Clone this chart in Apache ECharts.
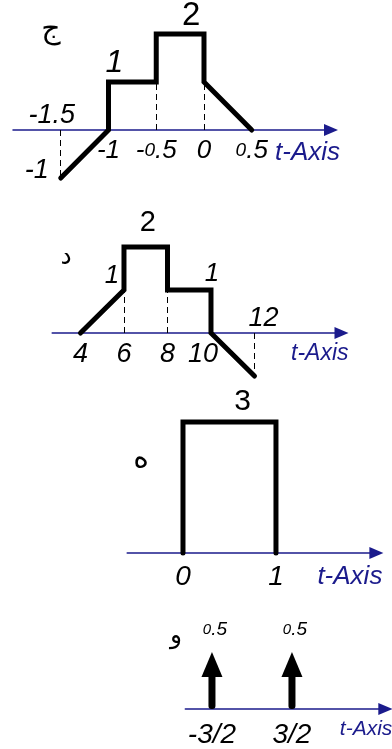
<!DOCTYPE html>
<html>
<head>
<meta charset="utf-8">
<script src="https://cdn.jsdelivr.net/npm/echarts@6/dist/echarts.min.js"></script>
<style>
html, body { margin: 0; padding: 0; background: #fff; }
#c { width: 392px; height: 749px; }
</style>
</head>
<body>
<div id="c"></div>
<script>
// ---- Signal (ج): piecewise signal with a ramp, two steps and a falling ramp
const sigA_t = [-1.5, -1, -1, -0.5, -0.5, 0, 0, 0.5];
const sigA_v = [-1, 0, 1, 1, 2, 2, 1, 0];
const guideA_t = [-1.5, -0.5, 0];
const guideA_v = [-1, 1, 1];
const tickA = [-1, -0.5, 0, 0.5];
const tickA_text = ['-1', '-0.5', '0', '0.5'];
const noteA_t = [-1.5, -1.5, -1, -0.25];
const noteA_v = [0, -1, 1, 2];
const noteA_text = ['-1.5', '-1', '1', '2'];

// ---- Signal (د)
const sigB_t = [4, 6, 6, 8, 8, 10, 10, 12];
const sigB_v = [0, 1, 2, 2, 1, 1, 0, -1];
const guideB_t = [6, 8, 12];
const guideB_v = [1, 1, -1];
const tickB = [4, 6, 8, 10];
const tickB_text = ['4', '6', '8', '10'];
const noteB_t = [7, 6, 10, 12];
const noteB_v = [2, 1, 1, 0];
const noteB_text = ['2', '1', '1', '12'];

// ---- Signal (ه): rectangular pulse
const sigC_t = [0, 0, 1, 1];
const sigC_v = [0, 3, 3, 0];
const tickC = [0, 1];
const tickC_text = ['0', '1'];
const noteC_t = [0.5];
const noteC_v = [3];
const noteC_text = ['3'];

// ---- Signal (و): two impulses
const impD_t = [-1.5, 1.5];
const impD_v = [0.5, 0.5];
const tickD = [-1.5, 1.5];
const tickD_text = ['-3/2', '3/2'];

const panelLetters = ['ج', 'د', 'ه', 'و'];

// ---- styling / layout
const NAVY = '#1b1b8c';
const INK = '#000';
const FONT = '"Liberation Sans", Arial, sans-serif';

const panels = [
  { sigT: sigA_t, sigV: sigA_v, guideT: guideA_t, guideV: guideA_v, ticks: tickA, tickText: tickA_text,
    noteT: noteA_t, noteV: noteA_v, noteText: noteA_text },
  { sigT: sigB_t, sigV: sigB_v, guideT: guideB_t, guideV: guideB_v, ticks: tickB, tickText: tickB_text,
    noteT: noteB_t, noteV: noteB_v, noteText: noteB_text },
  { sigT: sigC_t, sigV: sigC_v, guideT: [], guideV: [], ticks: tickC, tickText: tickC_text,
    noteT: noteC_t, noteV: noteC_v, noteText: noteC_text },
  { sigT: null, impT: impD_t, impV: impD_v, guideT: [], guideV: [], ticks: tickD, tickText: tickD_text,
    noteT: [], noteV: [], noteText: [] }
];

// each grid ends at t-axis level (value 0); negative parts are drawn below it unclipped
const layouts = [
  { grid: { left: 13, top: 22, width: 318, height: 108 }, x: [-2, 1.33], y: [0, 2.25],
    tickSize: 26, tickMargin: 8, tickShift: [0, 0, 0, 0], nameSize: 26, nameGap: 9, namePad: 10,
    notes: [ { dx: -9, dy: -15, size: 27, it: true }, { dx: -24, dy: -8, size: 27, it: true },
             { dx: 6, dy: -19, size: 32, it: true }, { dx: 11, dy: -18, size: 33, it: false } ] },
  { grid: { left: 52.2, top: 225.5, width: 289.3, height: 107.5 }, x: [2.7, 16], y: [0, 2.5],
    tickSize: 27, tickMargin: 8, tickShift: [0, 0, 0, 1], nameSize: 23, nameGap: 7, namePad: 9,
    notes: [ { dx: 2, dy: -24, size: 29, it: false }, { dx: -12, dy: -14, size: 26, it: true },
             { dx: 1, dy: -16, size: 26, it: true }, { dx: 9, dy: -15, size: 27, it: true } ] },
  { grid: { left: 127.2, top: 400.2, width: 249.2, height: 152.8 }, x: [-0.6, 2.08], y: [0, 3.5],
    tickSize: 28, tickMargin: 10, tickShift: [0, 0], nameSize: 26, nameGap: 6, namePad: 11,
    notes: [ { dx: 13, dy: -20, size: 30, it: false } ] },
  { grid: { left: 185.3, top: 623.5, width: 200, height: 85.5 }, x: [-2.5, 5], y: [0, 0.75],
    tickSize: 28, tickMargin: 12, tickShift: [0, 0], nameSize: 21, nameGap: 7, namePad: 10,
    notes: [] }
];

const letterPos = [[51, 30, 30], [66, 257, 25], [141, 459, 30], [176, 636, 25]];

// "0.5" is typeset with a smaller leading zero
function smallZero(s) {
  return String(s).replace(/^(-?)0\./, '$1{z|0}.');
}

const hidden = { color: 'rgba(0,0,0,0)', opacity: 1 };
const grid = [], xAxis = [], yAxis = [], series = [];

panels.forEach((p, i) => {
  const L = layouts[i];
  grid.push(Object.assign({ containLabel: false, outerBoundsMode: 'none' }, L.grid));

  xAxis.push({
    type: 'value', gridIndex: i, min: L.x[0], max: L.x[1],
    axisLine: { onZero: false, symbol: ['none', 'triangle'], symbolSize: [12, 14],
                lineStyle: { color: NAVY, width: 1.5 } },
    axisTick: { show: false },
    splitLine: { show: false },
    axisLabel: {
      customValues: p.ticks, margin: L.tickMargin, color: INK, fontSize: L.tickSize,
      fontStyle: 'italic', fontFamily: FONT,
      formatter: (v) => {
        const k = p.ticks.indexOf(v);
        const txt = smallZero(p.tickText[k]);
        return L.tickShift[k] ? '{sl|' + txt + '}' : txt;
      },
      rich: {
        z: { fontSize: Math.round(L.tickSize * 0.72), fontStyle: 'italic', fontFamily: FONT, color: INK },
        sl: { padding: [0, 16, 0, 0], fontSize: L.tickSize, fontStyle: 'italic', fontFamily: FONT, color: INK }
      }
    },
    name: 't-Axis', nameLocation: 'end', nameGap: L.nameGap,
    nameTextStyle: { color: NAVY, fontSize: L.nameSize, fontStyle: 'italic', fontFamily: FONT,
                     align: 'right', verticalAlign: 'top', padding: [L.namePad, 0, 0, 0] }
  });
  yAxis.push({ type: 'value', gridIndex: i, min: L.y[0], max: L.y[1], show: false });

  if (p.sigT) {
    series.push({
      type: 'line', xAxisIndex: i, yAxisIndex: i, silent: true, z: 5, clip: false,
      data: p.sigT.map((t, k) => [t, p.sigV[k]]),
      symbol: 'none',
      lineStyle: { color: INK, width: 5, cap: 'round', join: 'miter' }
    });
  }

  if (p.guideT.length) {
    series.push({
      type: 'lines', coordinateSystem: 'cartesian2d', xAxisIndex: i, yAxisIndex: i, silent: true, z: 3, clip: false,
      data: p.guideT.map((t, k) => ({ coords: [[t, 0], [t, p.guideV[k]]] })),
      lineStyle: { color: INK, width: 1, type: [6, 4], opacity: 1 }
    });
  }

  if (p.noteT.length) {
    series.push({
      type: 'scatter', xAxisIndex: i, yAxisIndex: i, silent: true, z: 6, clip: false,
      symbolSize: 1, itemStyle: hidden,
      data: p.noteT.map((t, k) => {
        const n = L.notes[k];
        return {
          value: [t, p.noteV[k]], name: p.noteText[k],
          label: { offset: [n.dx, n.dy], fontSize: n.size, fontStyle: n.it ? 'italic' : 'normal', color: INK }
        };
      }),
      label: { show: true, position: 'inside', color: INK, opacity: 1, fontFamily: FONT,
               textBorderWidth: 0, formatter: (d) => smallZero(d.name) }
    });
  }

  if (p.impT) {
    // impulse arrows: stem plus triangular head, tip at the impulse weight
    series.push({
      type: 'custom', xAxisIndex: i, yAxisIndex: i, silent: true, z: 5, clip: false,
      data: p.impT.map((t, k) => [t, p.impV[k]]),
      renderItem: (params, api) => {
        const base = api.coord([api.value(0), 0]);
        const tip = api.coord([api.value(0), api.value(1)]);
        const hw = 10.5, hh = 25, sw = 7;
        return {
          type: 'group',
          children: [
            { type: 'rect', shape: { x: base[0] - sw / 2, y: tip[1] + hh - 1, width: sw,
                                     height: base[1] - tip[1] - hh + 1, r: [0, 0, 3, 3] },
              style: { fill: INK } },
            { type: 'polygon', shape: { points: [[base[0] - hw, tip[1] + hh], [base[0], tip[1]], [base[0] + hw, tip[1] + hh]] },
              style: { fill: INK } }
          ]
        };
      }
    });
    series.push({
      type: 'scatter', xAxisIndex: i, yAxisIndex: i, silent: true, z: 6, clip: false,
      symbolSize: 1, itemStyle: hidden,
      data: p.impT.map((t, k) => [t, p.impV[k]]),
      label: { show: true, position: 'inside', offset: [3, -22], color: INK, opacity: 1, fontFamily: FONT,
               fontSize: 19, fontStyle: 'italic', textBorderWidth: 0,
               formatter: (d) => smallZero(d.value[1]),
               rich: { z: { fontSize: 15, fontStyle: 'italic', fontFamily: FONT, color: INK } } }
    });
  }
});

const chart = echarts.init(document.getElementById('c'), null, { renderer: 'canvas' });
chart.setOption({
  animation: false,
  backgroundColor: '#fff',
  grid, xAxis, yAxis, series,
  graphic: panelLetters.map((ch, i) => ({
    type: 'text', x: letterPos[i][0], y: letterPos[i][1], silent: true,
    style: { text: ch, fill: INK, fontSize: letterPos[i][2], fontFamily: '"DejaVu Sans", "Noto Sans", sans-serif',
             align: 'center', verticalAlign: 'middle' }
  }))
});
</script>
</body>
</html>
